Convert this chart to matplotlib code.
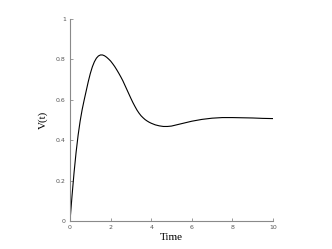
import matplotlib
matplotlib.use("Agg")
import matplotlib.pyplot as plt

# values
time = [0, 0.1, 0.2, 0.3, 0.4, 0.5, 0.6, 0.7, 0.8, 0.9,
        1.0, 1.1, 1.2, 1.3, 1.4, 1.5, 1.6, 1.7, 1.8, 1.9,
        2.0, 2.1, 2.2, 2.3, 2.4, 2.5, 2.6, 2.7, 2.8, 2.9,
        3.0, 3.1, 3.2, 3.3, 3.4, 3.5, 3.6, 3.7, 3.8, 3.9,
        4.0, 4.2, 4.4, 4.6, 4.8, 5.0, 5.5, 6.0, 6.5, 7.0,
        7.5, 8.0, 8.5, 9.0, 9.5, 10]
voltage = [0, 0.125, 0.24, 0.34, 0.425, 0.495, 0.552, 0.6, 0.645, 0.69,
           0.73, 0.763, 0.788, 0.806, 0.817, 0.822, 0.822, 0.818, 0.811, 0.802,
           0.792, 0.779, 0.765, 0.749, 0.732, 0.714, 0.695, 0.673, 0.651, 0.629,
           0.607, 0.586, 0.567, 0.549, 0.534, 0.521, 0.511, 0.502, 0.495, 0.489,
           0.484, 0.476, 0.471, 0.468, 0.468, 0.47, 0.482, 0.494, 0.503, 0.509,
           0.512, 0.512, 0.511, 0.51, 0.508, 0.507]
xticks = [0, 2, 4, 6, 8, 10]
yticks = [0, 0.2, 0.4, 0.6, 0.8, 1]
ytick_labels = ["0", "0.2", "0.4", "0.6", "0.8", "1"]

fig = plt.figure(figsize=(3.32, 2.49), dpi=100)
ax = fig.add_axes([70 / 332, 1 - 221 / 249, 203 / 332, 202 / 249])

ax.plot(time, voltage, color="black", linewidth=0.8)

ax.set_xlim(0, 10)
ax.set_ylim(0, 1)
ax.set_xticks(xticks)
ax.set_xticklabels([str(x) for x in xticks])
ax.set_yticks(yticks)
ax.set_yticklabels(ytick_labels)

for side in ["top", "right"]:
    ax.spines[side].set_visible(False)
for side in ["left", "bottom"]:
    ax.spines[side].set_color("#8a8a8a")
    ax.spines[side].set_linewidth(0.8)

ax.tick_params(direction="in", length=2, width=0.6, color="#8a8a8a",
               labelsize=4.5, labelcolor="#555555", pad=3)

ax.set_xlabel("Time", family="Liberation Serif", fontsize=8, labelpad=2)
ax.set_ylabel("V(t)", family="Liberation Serif", fontsize=8, labelpad=6)

fig.savefig("out.png", dpi=100)
